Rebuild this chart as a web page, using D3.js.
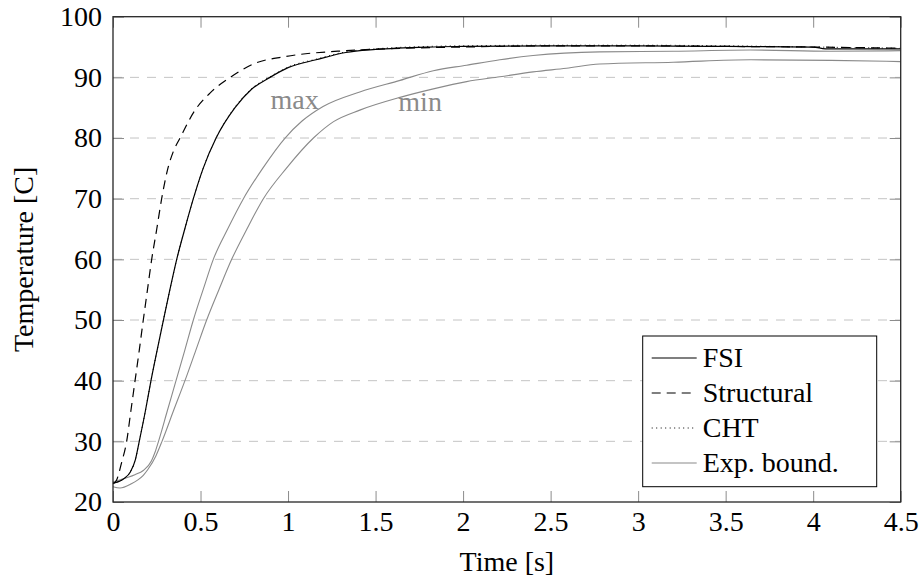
<!DOCTYPE html>
<html>
<head>
<script src="https://cdn.jsdelivr.net/npm/d3@7"></script>
</head>
<body style="margin:0">
<div id="wrapper"></div>
<script>
// Data (time in s, temperature in C)
const fsiTime = [0, 0.06, 0.1, 0.128, 0.15, 0.185, 0.217, 0.252, 0.288, 0.325, 0.364, 0.41, 0.459, 0.515, 0.589, 0.697, 0.79, 0.897, 1.0, 1.16, 1.33, 1.5, 1.8, 2.0, 2.5, 3.0, 3.5, 4.0, 4.07, 4.5];
const fsiTemp = [23.1, 23.8, 25, 27, 30, 35, 40, 45, 50, 55, 60, 65, 70, 75, 80, 85, 88, 90, 91.6, 92.9, 94.1, 94.6, 95.0, 95.1, 95.2, 95.2, 95.1, 95.0, 94.7, 94.7];

const structTime = [0, 0.02, 0.05, 0.078, 0.102, 0.126, 0.15, 0.173, 0.197, 0.221, 0.25, 0.278, 0.31, 0.345, 0.383, 0.469, 0.554, 0.67, 0.81, 0.98, 1.33, 1.55, 2.0, 2.5, 3.0, 3.5, 4.0, 4.5];
const structTemp = [23.0, 23.6, 26.6, 30, 35, 40, 45, 50, 55, 60, 65, 70, 74.6, 77.8, 80, 84.6, 87.4, 90, 92.3, 93.4, 94.4, 94.7, 95.0, 95.2, 95.2, 95.1, 95.0, 94.8];

const chtTime = [0, 0.06, 0.1, 0.128, 0.15, 0.185, 0.217, 0.252, 0.288, 0.325, 0.364, 0.41, 0.459, 0.515, 0.589, 0.697, 0.79, 0.897, 1.0, 1.16, 1.33, 1.5, 1.8, 2.0, 2.5, 3.0, 3.5, 4.0, 4.5];
const chtTemp = [23.1, 23.8, 25, 27, 30, 35, 40, 45, 50, 55, 60, 65, 70, 75, 80, 85.1, 88.1, 90.1, 91.7, 93.0, 94.2, 94.7, 95.1, 95.2, 95.3, 95.3, 95.2, 95.0, 94.8];

const maxTime = [0, 0.078, 0.125, 0.173, 0.22, 0.24, 0.26, 0.31, 0.36, 0.41, 0.459, 0.515, 0.573, 0.655, 0.745, 0.855, 0.983, 1.08, 1.2, 1.41, 1.64, 1.83, 2.02, 2.21, 2.4, 2.78, 3.2, 3.64, 4.1, 4.5];
const maxTemp = [23.3, 24.0, 24.5, 25.2, 26.8, 28.2, 30, 35, 40, 45, 50, 55, 60, 65, 70, 75, 80, 82.8, 85.2, 87.6, 89.5, 91.1, 92, 92.9, 93.6, 94.2, 94.3, 94.5, 94.3, 94.4];

const minTime = [0, 0.04, 0.105, 0.14, 0.173, 0.2, 0.245, 0.28, 0.345, 0.411, 0.473, 0.535, 0.605, 0.678, 0.765, 0.859, 0.99, 1.145, 1.26, 1.41, 1.64, 1.83, 2.02, 2.21, 2.4, 2.59, 2.78, 3.2, 3.64, 4.1, 4.5];
const minTemp = [22.5, 22.3, 23.0, 23.6, 24.4, 25.4, 27.6, 30, 35, 40, 45, 50, 55, 60, 65, 70, 75, 80, 82.7, 84.6, 86.7, 88.1, 89.3, 90.1, 90.9, 91.5, 92.2, 92.5, 92.9, 92.8, 92.6];

const xTicks = [0, 0.5, 1, 1.5, 2, 2.5, 3, 3.5, 4, 4.5];
const yTicks = [20, 30, 40, 50, 60, 70, 80, 90, 100];
const legendLabels = ['FSI', 'Structural', 'CHT', 'Exp. bound.'];

function drawChart() {
  const dimensions = {
    width: 920,
    height: 583,
    margin: { top: 16.7, right: 19.3, bottom: 81, left: 113 },
  };
  dimensions.boundedWidth =
    dimensions.width - dimensions.margin.left - dimensions.margin.right;
  dimensions.boundedHeight =
    dimensions.height - dimensions.margin.top - dimensions.margin.bottom;

  const fontFamily = '"Liberation Serif"';
  const fontSize = '28px';

  // Scales
  const xScale = d3.scaleLinear().domain([0, 4.5]).range([0, dimensions.boundedWidth]);
  const yScale = d3.scaleLinear().domain([20, 100]).range([dimensions.boundedHeight, 0]);

  // Canvas
  const wrapper = d3
    .select('#wrapper')
    .append('svg')
    .attr('width', dimensions.width)
    .attr('height', dimensions.height)
    .style('display', 'block');

  wrapper
    .append('style')
    .text('text { font: 28px "Liberation Serif", serif; }');

  const bounds = wrapper
    .append('g')
    .attr('transform', `translate(${dimensions.margin.left}, ${dimensions.margin.top})`);

  // Horizontal grid
  bounds
    .append('g')
    .selectAll('line')
    .data(yTicks.slice(1, -1))
    .join('line')
    .attr('x1', 0)
    .attr('x2', dimensions.boundedWidth)
    .attr('y1', (d) => yScale(d))
    .attr('y2', (d) => yScale(d))
    .attr('stroke', '#c4c4c4')
    .attr('stroke-width', 1)
    .attr('stroke-dasharray', '9,8');

  // Series
  const toPoints = (ts, vs) => ts.map((t, i) => ({ t, v: vs[i] }));
  const lineGenerator = d3
    .line()
    .x((d) => xScale(d.t))
    .y((d) => yScale(d.v))
    .curve(d3.curveMonotoneX);

  const series = [
    { pts: toPoints(maxTime, maxTemp), stroke: '#8a8a8a', width: 1.1, dash: null },
    { pts: toPoints(minTime, minTemp), stroke: '#8a8a8a', width: 1.1, dash: null },
    { pts: toPoints(structTime, structTemp), stroke: '#000', width: 1.2, dash: '9,6' },
    { pts: toPoints(fsiTime, fsiTemp), stroke: '#000', width: 1.2, dash: null },
    { pts: toPoints(chtTime, chtTemp), stroke: '#000', width: 1, dash: '1,3.5' },
  ];

  bounds
    .append('g')
    .selectAll('path')
    .data(series)
    .join('path')
    .attr('d', (d) => lineGenerator(d.pts))
    .attr('fill', 'none')
    .attr('stroke', (d) => d.stroke)
    .attr('stroke-width', (d) => d.width)
    .attr('stroke-dasharray', (d) => d.dash);

  // Axes with inward ticks
  const xAxis = d3.axisBottom(xScale).tickValues(xTicks).tickSizeInner(-11).tickSizeOuter(0).tickPadding(9).tickFormat(d3.format('~g'));
  const xAxisTop = d3.axisTop(xScale).tickValues(xTicks).tickSizeInner(-11).tickSizeOuter(0).tickFormat('');
  const yAxis = d3.axisLeft(yScale).tickValues(yTicks).tickSizeInner(-11).tickSizeOuter(0).tickPadding(11);
  const yAxisRight = d3.axisRight(yScale).tickValues(yTicks).tickSizeInner(-11).tickSizeOuter(0).tickFormat('');

  const axes = [
    bounds.append('g').attr('transform', `translate(0, ${dimensions.boundedHeight})`).call(xAxis),
    bounds.append('g').call(xAxisTop),
    bounds.append('g').call(yAxis),
    bounds.append('g').attr('transform', `translate(${dimensions.boundedWidth}, 0)`).call(yAxisRight),
  ];
  axes.forEach((a) => {
    a.select('.domain').remove();
    a.selectAll('.tick line').attr('stroke', '#8c8c8c');
    a.selectAll('.tick text')
      .attr('fill', '#000')
      .style('font-family', fontFamily)
      .style('font-size', fontSize);
  });

  // Frame
  bounds
    .append('rect')
    .attr('width', dimensions.boundedWidth)
    .attr('height', dimensions.boundedHeight)
    .attr('fill', 'none')
    .attr('stroke', '#262626')
    .attr('stroke-width', 1.3);

  // Free texts: axis titles, curve annotations
  const labels = [
    { text: 'Time [s]', x: dimensions.boundedWidth / 2, y: dimensions.boundedHeight + 69, anchor: 'middle', fill: '#000', rotate: false },
    { text: 'Temperature [C]', x: -80, y: dimensions.boundedHeight / 2, anchor: 'middle', fill: '#000', rotate: true },
    { text: 'max', x: xScale(0.9), y: yScale(84.8), anchor: 'start', fill: '#8a8a8a', rotate: false },
    { text: 'min', x: xScale(1.63), y: yScale(84.5), anchor: 'start', fill: '#8a8a8a', rotate: false },
  ];

  bounds
    .append('g')
    .selectAll('text')
    .data(labels)
    .join('text')
    .attr('transform', (d) => `translate(${d.x}, ${d.y})${d.rotate ? ' rotate(-90)' : ''}`)
    .attr('text-anchor', (d) => d.anchor)
    .attr('fill', (d) => d.fill)
    .style('font-family', fontFamily)
    .style('font-size', fontSize)
    .text((d) => d.text);

  // Legend
  const legend = wrapper.append('g').attr('transform', 'translate(642.7, 336)');
  legend
    .append('rect')
    .attr('width', 234)
    .attr('height', 150.7)
    .attr('fill', '#fff')
    .attr('stroke', '#000')
    .attr('stroke-width', 1);

  const legendStyles = [
    { stroke: '#000', width: 1.2, dash: null },
    { stroke: '#000', width: 1.2, dash: '9,6' },
    { stroke: '#000', width: 1, dash: '1,3.5' },
    { stroke: '#8a8a8a', width: 1.1, dash: null },
  ];

  const rows = legend
    .selectAll('g.row')
    .data(legendLabels)
    .join('g')
    .attr('class', 'row')
    .attr('transform', (d, i) => `translate(0, ${22 + i * 35})`);

  rows
    .append('line')
    .attr('x1', 9)
    .attr('x2', 54)
    .attr('stroke', (d, i) => legendStyles[i].stroke)
    .attr('stroke-width', (d, i) => legendStyles[i].width)
    .attr('stroke-dasharray', (d, i) => legendStyles[i].dash);

  rows
    .append('text')
    .attr('x', 60)
    .attr('dy', '0.33em')
    .style('font-family', fontFamily)
    .style('font-size', fontSize)
    .text((d) => d);
}
drawChart();
</script>
</body>
</html>
